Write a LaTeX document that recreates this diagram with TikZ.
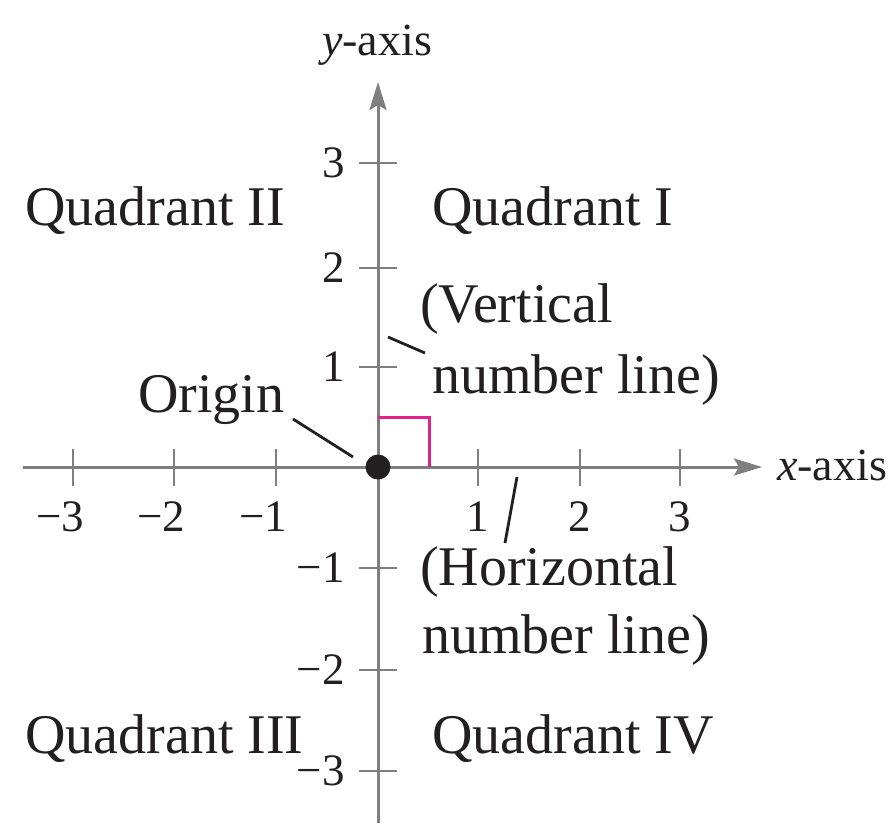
\documentclass[tikz,border=0pt]{standalone}
\usepackage{fontspec}
\setmainfont{Liberation Serif}
\usetikzlibrary{arrows.meta}
\definecolor{ink}{HTML}{231F20}
\definecolor{axisgray}{HTML}{7F7F7F}
\definecolor{rightmag}{HTML}{E0218A}
\begin{document}
\begin{tikzpicture}[x=1pt,y=-1pt,
  axis/.style={draw=axisgray,line width=3pt},
  tickmark/.style={draw=axisgray,line width=2.5pt},
  lbl/.style={text=ink,font=\fontsize{56}{60}\selectfont,inner sep=0pt,anchor=base west},
  num/.style={text=ink,font=\fontsize{45}{50}\selectfont,inner sep=0pt},
  axlbl/.style={text=ink,font=\fontsize{46}{50}\selectfont,inner sep=0pt},
  leader/.style={draw=ink,line width=2.8pt},
  rightmark/.style={draw=rightmag,line width=3pt},
  arrowtip/.style={-{Stealth[length=28pt,width=17pt,inset=5pt]}},
]
\useasboundingbox (0,0) rectangle (895,823);
% axes
\coordinate (xstart) at (23,467);
\coordinate (xend) at (762,467);
\coordinate (ybot) at (378,823);
\coordinate (ytop) at (378,82);
\draw[axis,arrowtip] (xstart) -- (xend);
\draw[axis,arrowtip] (ybot) -- (ytop);
% x ticks and labels
\foreach \px/\t [count=\i] in {73/{\llap{−}3},174/{\llap{−}2},276/{\llap{−}1},478/1,580/2,680/3}{
  \coordinate (xt\i a) at (\px,449);
  \coordinate (xt\i b) at (\px,486);
  \draw[tickmark] (xt\i a) -- (xt\i b);
  \node[num] (xl\i) at (\px,517) {\t};
}
% y ticks and labels
\foreach \py/\t [count=\i] in {163/3,268/2,367/1,568/−1,670/−2,771/−3}{
  \coordinate (yt\i a) at (359,\py);
  \coordinate (yt\i b) at (397,\py);
  \draw[tickmark] (yt\i a) -- (yt\i b);
  \node[num,anchor=east] (yl\i) at (345,\py) {\t};
}
% axis labels
\node[axlbl,anchor=base] (ylabel) at (377,55) {\textit{y}-axis};
\node[axlbl,anchor=base west] (xlabel) at (777,480) {\textit{x}-axis};
% right angle mark
\coordinate (ra1) at (378,417);
\coordinate (ra2) at (429,417);
\coordinate (ra3) at (429,467);
\draw[rightmark] (ra1) -- (ra2) -- (ra3);
% origin dot
\node[circle,fill=ink,minimum size=25pt,inner sep=0pt] (origin) at (378,467) {};
% labels
\node[lbl] (q2) at (25,225) {Quadrant II};
\node[lbl] (q1) at (432,225) {Quadrant I};
\node[lbl] (vert1) at (420,322) {(Vertical};
\node[lbl] (vert2) at (432,393) {number line)};
\node[lbl] (orig) at (138,412) {Origin};
\node[lbl] (hor1) at (420,585) {(Horizontal};
\node[lbl] (hor2) at (422,653) {number line)};
\node[lbl] (q3) at (25,753) {Quadrant III};
\node[lbl] (q4) at (432,753) {Quadrant IV};
% leader lines
\coordinate (oa) at (293,419);
\coordinate (ob) at (353,457);
\coordinate (va) at (388,337);
\coordinate (vb) at (425,353);
\coordinate (ha) at (517,477);
\coordinate (hb) at (505,543);
\draw[leader] (oa) -- (ob);
\draw[leader] (va) -- (vb);
\draw[leader] (ha) -- (hb);
\end{tikzpicture}
\end{document}
